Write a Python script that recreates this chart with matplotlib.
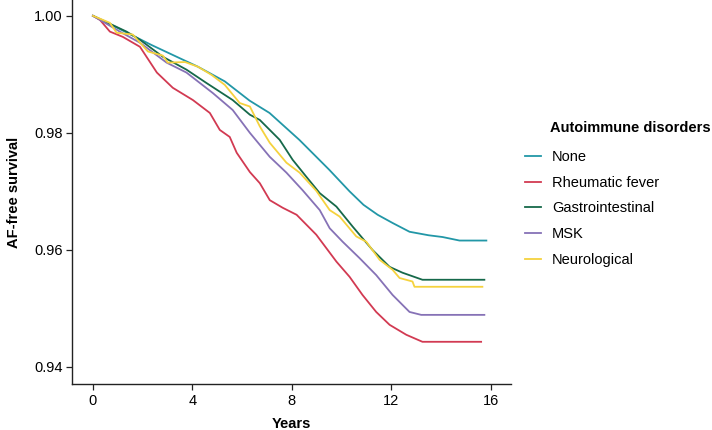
"""
AF-free survival by autoimmune disorder group (Kaplan-Meier style curves).
"""

import matplotlib
matplotlib.use("Agg")
import matplotlib.pyplot as plt

# -------------------------------
# Data
# -------------------------------
groups = ["None", "Rheumatic fever", "Gastrointestinal", "MSK", "Neurological"]
colors = ["#2297A7", "#D23A52", "#16694A", "#8672B6", "#F5D23E"]

none_t = [0, 1, 2.36, 4.22, 5.3, 6.3, 7.1, 8.3, 9.5, 10.32, 10.88, 11.45, 12.05, 12.73,
          13.5, 14.06, 14.74, 15.82]
none_v = [1.0, 0.9979, 0.9950, 0.9913, 0.9888, 0.9855, 0.9834, 0.9788, 0.9737, 0.9700,
          0.9677, 0.9660, 0.9646, 0.9631, 0.9625, 0.9622, 0.9616, 0.9616]

rheum_t = [0, 0.28, 0.68, 1.2, 1.89, 2.57, 3.21, 4.02, 4.7, 5.1, 5.5, 5.78, 6.31, 6.71,
           7.11, 7.63, 8.19, 8.98, 9.79, 10.32, 10.84, 11.39, 11.93, 12.6, 13.25, 15.61]
rheum_v = [1.0, 0.9993, 0.9973, 0.9964, 0.9947, 0.9903, 0.9877, 0.9856, 0.9834, 0.9805,
           0.9793, 0.9766, 0.9733, 0.9714, 0.9685, 0.9672, 0.9660, 0.9626, 0.9580, 0.9554,
           0.9523, 0.9494, 0.9472, 0.9455, 0.9443, 0.9443]

gastro_t = [0, 1.35, 1.89, 2.81, 3.76, 4.57, 5.62, 6.31, 6.71, 7.51, 8.03, 8.58, 9.12,
            9.79, 10.44, 11.24, 11.93, 12.45, 13.25, 15.74]
gastro_v = [1.0, 0.9973, 0.9959, 0.9930, 0.9908, 0.9885, 0.9856, 0.9831, 0.9822, 0.9788,
            0.9754, 0.9725, 0.9697, 0.9674, 0.9640, 0.9600, 0.9571, 0.9561, 0.9549, 0.9549]

msk_t = [0, 1.08, 1.89, 2.96, 3.76, 4.82, 5.62, 6.31, 7.11, 7.78, 8.43, 9.12, 9.52, 10.04,
         10.72, 11.39, 12.05, 12.73, 13.2, 15.74]
msk_v = [1.0, 0.9973, 0.9954, 0.9920, 0.9903, 0.9868, 0.9839, 0.9800, 0.9759, 0.9732,
         0.9702, 0.9668, 0.9637, 0.9614, 0.9586, 0.9557, 0.9523, 0.9494, 0.9489, 0.9489]

neuro_t = [0, 0.68, 0.95, 1.6, 2.21, 2.81, 3.01, 3.7, 4.22, 4.77, 5.3, 5.9, 6.31, 6.71,
           7.11, 7.78, 8.31, 8.98, 9.52, 9.92, 10.59, 10.99, 11.53, 12.05, 12.33, 12.85,
           12.93, 15.66]
neuro_v = [1.0, 0.9988, 0.9971, 0.9968, 0.9939, 0.9932, 0.9920, 0.9921, 0.9913, 0.9899,
           0.9882, 0.9851, 0.9845, 0.9811, 0.9783, 0.9749, 0.9732, 0.9701, 0.9668, 0.9657,
           0.9623, 0.9614, 0.9583, 0.9566, 0.9552, 0.9546, 0.9537, 0.9537]

series = [(none_t, none_v), (rheum_t, rheum_v), (gastro_t, gastro_v),
          (msk_t, msk_v), (neuro_t, neuro_v)]

x_ticks = [0, 4, 8, 12, 16]
y_ticks = [0.94, 0.96, 0.98, 1.00]


def main():
    plt.rcParams["font.family"] = ["Liberation Sans", "DejaVu Sans"]
    plt.rcParams["font.size"] = 10.5

    fig = plt.figure(figsize=(7.12, 4.30), dpi=100)
    ax = fig.add_axes([0.1016, 0.107, 0.6157, 0.893])

    for name, col, (t, v) in zip(groups, colors, series):
        ax.plot(t, v, color=col, linewidth=1.3, label=name)

    ax.set_xlim(-0.83, 16.8)
    ax.set_ylim(0.93709, 1.0027)
    ax.set_xticks(x_ticks)
    ax.set_xticklabels([str(x) for x in x_ticks])
    ax.set_yticks(y_ticks)
    ax.set_yticklabels(["%.2f" % y for y in y_ticks])

    for side in ["top", "right"]:
        ax.spines[side].set_visible(False)
    for side in ["left", "bottom"]:
        ax.spines[side].set_color("#222222")
        ax.spines[side].set_linewidth(1.0)
    ax.tick_params(direction="out", length=4, width=0.9, colors="#222222",
                   labelsize=10.5, labelcolor="black", pad=3)

    ax.set_xlabel("Years", fontweight="bold", fontsize=10.5, labelpad=7)
    ax.set_ylabel("AF-free survival", fontweight="bold", fontsize=10.5, labelpad=9)

    # legend title sits in line with the labels, not the keys
    fig.text(550 / 712, 1 - 128 / 430, "Autoimmune disorders", fontweight="bold",
             fontsize=10.5, ha="left", va="center")
    fig.legend(loc="upper left", bbox_to_anchor=(525 / 712, 1 - 150 / 430),
               bbox_transform=fig.transFigure, frameon=False, handlelength=1.1,
               handletextpad=0.75, labelspacing=0.8, borderpad=0, borderaxespad=0)

    fig.savefig("out.png", dpi=100)
    plt.close(fig)


if __name__ == "__main__":
    main()
